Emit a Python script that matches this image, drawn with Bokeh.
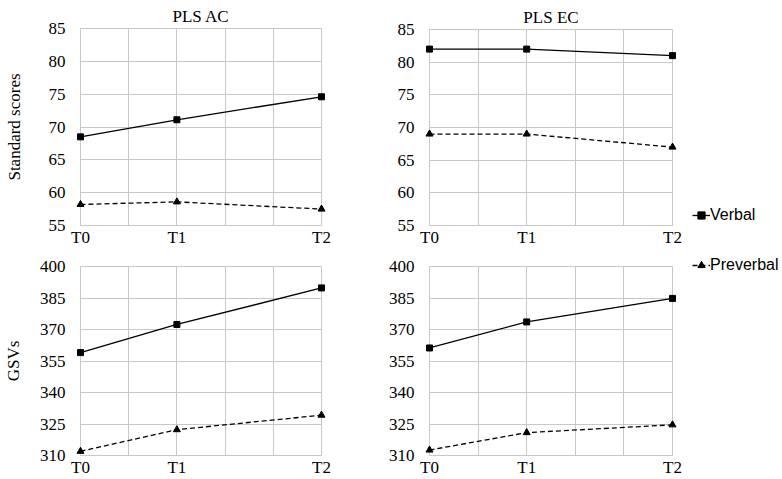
from bokeh.plotting import figure
from bokeh.layouts import column, row
from bokeh.models import FixedTicker, Legend, LegendItem, Range1d
from bokeh.embed import file_html
from bokeh.resources import INLINE

# ---- data ----
times = ["T0", "T1", "T2"]
time_pos = [0, 2, 5]

ac_std_verbal = [68.5, 71.1, 74.6]
ac_std_preverbal = [58.2, 58.6, 57.5]
ec_std_verbal = [82.0, 82.0, 81.0]
ec_std_preverbal = [69.0, 69.0, 67.0]

ac_gsv_verbal = [359.0, 372.4, 389.8]
ac_gsv_preverbal = [312.0, 322.3, 329.2]
ec_gsv_verbal = [361.2, 373.6, 384.8]
ec_gsv_preverbal = [312.6, 320.9, 324.6]

std_ticks = [55, 60, 65, 70, 75, 80, 85]
gsv_ticks = [310, 325, 340, 355, 370, 385, 400]
x_grid = [0, 1, 2, 3, 4, 5]

series_names = ["Verbal", "Preverbal"]

SERIF = "Liberation Serif"
SANS = "Liberation Sans"
GRID = "#c8c8c8"
FS = "17px"


def make_fig(title, width, height, left, right, top, bottom, yticks, ylabel,
             verbal, preverbal, ylabel_standoff):
    p = figure(width=width, height=height, output_backend="svg",
               toolbar_location=None, title=title,
               x_range=Range1d(time_pos[0], time_pos[-1]),
               y_range=Range1d(yticks[0], yticks[-1]),
               min_border_left=left, min_border_right=right,
               min_border_top=top, min_border_bottom=bottom)
    p.title.align = "center"
    p.title.text_font = SERIF
    p.title.text_font_size = FS
    p.title.text_font_style = "normal"
    p.title.text_color = "black"
    p.title.standoff = 6
    p.title.offset = 0

    p.xaxis.ticker = FixedTicker(ticks=time_pos)
    p.xaxis.major_label_overrides = {t: lab for t, lab in zip(time_pos, times)}
    p.yaxis.ticker = FixedTicker(ticks=yticks)
    p.xgrid.ticker = FixedTicker(ticks=x_grid)
    p.ygrid.ticker = FixedTicker(ticks=yticks)
    for ax in (p.xaxis[0], p.yaxis[0]):
        ax.axis_line_color = GRID
        ax.major_tick_line_color = None
        ax.minor_tick_line_color = None
        ax.major_tick_out = 0
        ax.major_tick_in = 0
        ax.minor_tick_out = 0
        ax.minor_tick_in = 0
        ax.major_label_text_font = SERIF
        ax.major_label_text_font_size = FS
        ax.major_label_text_color = "black"
    p.xaxis.major_label_standoff = 2
    p.yaxis.major_label_standoff = 15
    if ylabel:
        p.yaxis.axis_label = ylabel
        p.yaxis.axis_label_text_font = SERIF
        p.yaxis.axis_label_text_font_size = FS
        p.yaxis.axis_label_text_font_style = "normal"
        p.yaxis.axis_label_text_color = "black"
        p.yaxis.axis_label_standoff = ylabel_standoff
    p.grid.grid_line_color = GRID
    p.grid.grid_line_width = 1
    p.outline_line_color = GRID

    p.line(time_pos, verbal, line_color="black", line_width=1.3)
    p.scatter(time_pos, verbal, marker="square", size=6,
              fill_color="black", line_color="black", level="overlay")
    p.line(time_pos, preverbal, line_color="black", line_width=1.3,
           line_dash="5 3")
    p.scatter(time_pos, preverbal, marker="triangle", size=7,
              fill_color="black", line_color="black", level="overlay")
    return p


tl = make_fig("PLS AC", 385, 249, 78, 64, 28, 23, std_ticks,
              "Standard scores", ac_std_verbal, ac_std_preverbal, 22)
tr = make_fig("PLS EC", 297, 249, 44, 10, 29, 23, std_ticks,
              None, ec_std_verbal, ec_std_preverbal, 0)
bl = make_fig("", 385, 230, 78, 64, 17, 23, gsv_ticks,
              "GSVs", ac_gsv_verbal, ac_gsv_preverbal, 14)
br = make_fig("", 297, 230, 44, 10, 17, 23, gsv_ticks,
              None, ec_gsv_verbal, ec_gsv_preverbal, 0)

# legend panel: series drawn outside its visible ranges, only the legend shows
lg = figure(width=100, height=479, output_backend="svg", toolbar_location=None,
            x_range=Range1d(100, 101), y_range=Range1d(0, 1),
            min_border_left=0, min_border_right=0, min_border_top=0,
            min_border_bottom=0)
lg.axis.visible = False
lg.grid.visible = False
lg.outline_line_color = None
rv_l = lg.line(time_pos, ac_std_verbal, line_color="black", line_width=1.3)
rv_s = lg.scatter(time_pos, ac_std_verbal, marker="square", size=7,
                  fill_color="black", line_color="black")
rp_l = lg.line(time_pos, ac_std_preverbal, line_color="black", line_width=1.3,
               line_dash="5 3")
rp_s = lg.scatter(time_pos, ac_std_preverbal, marker="triangle", size=7,
                  fill_color="black", line_color="black")
leg = Legend(items=[LegendItem(label=series_names[0], renderers=[rv_l, rv_s]),
                    LegendItem(label=series_names[1], renderers=[rp_l, rp_s])],
             location=(10, 204), margin=0, padding=0, border_line_color=None,
             background_fill_alpha=0, label_text_font=SANS,
             label_text_font_size="16px", label_text_color="black",
             glyph_width=18, glyph_height=20, label_standoff=0,
             label_height=20, spacing=30)
lg.add_layout(leg)

layout = row(column(tl, bl), column(tr, br), lg)

open("out.html", "w").write(file_html(layout, INLINE))
